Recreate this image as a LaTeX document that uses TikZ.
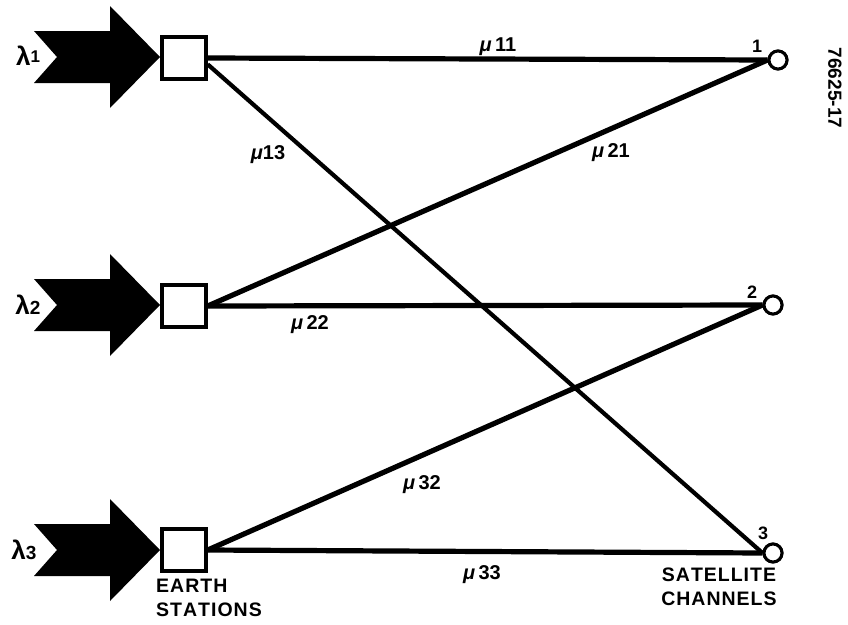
\documentclass[tikz,border=0pt]{standalone}
\usepackage{fontspec}
\setmainfont{Liberation Sans}
\usetikzlibrary{calc}
\begin{document}
\begin{tikzpicture}[x=1pt,y=-1pt,
  station/.style={draw,line width=3.4pt,fill=white,minimum width=44pt,minimum height=42pt,inner sep=0pt},
  channel/.style={circle,draw,line width=3pt,fill=white,minimum size=18pt,inner sep=0pt},
  link/.style={line width=5.2pt},
  thinlink/.style={line width=4.2pt},
  rate/.style={font=\fontsize{20}{22}\selectfont\bfseries,inner sep=1pt},
  idx/.style={font=\fontsize{18}{20}\selectfont\bfseries,inner sep=1pt},
  caption/.style={font=\fontsize{19.5}{24}\selectfont\bfseries,inner sep=0pt}
]
\useasboundingbox[fill=white] (0,0) rectangle (848,624);

% earth stations and satellite channels
\node[station] (e1) at (184,58) {};
\node[station] (e2) at (184,306) {};
\node[station] (e3) at (184,550) {};
\node[channel] (c1) at (778,60) {};
\node[channel] (c2) at (773,305) {};
\node[channel] (c3) at (773,553) {};

% arrival streams: notched block arrows
\foreach \y in {57,305,550}{
  \fill (34,\y-26) -- (110,\y-26) -- (110,\y-51) -- (160,\y) -- (110,\y+51)
        -- (110,\y+26) -- (34,\y+26) -- (57,\y) -- cycle;
}

% service links
\draw[link] (e1.east) -- (c1.west);
\draw[thinlink] (e1.-15) -- (c3.west);
\draw[link] (c1.west) -- (e2.east);
\draw[link] (e2.east) -- (c2.west);
\draw[link] (e3.east) -- (c2.west);
\draw[link] (e3.east) -- (c3.west);

% redraw nodes on top of link ends
\node[station] at (e1) {};
\node[station] at (e2) {};
\node[station] at (e3) {};
\node[channel] at (c1) {};
\node[channel] at (c2) {};
\node[channel] at (c3) {};

% arrival rates
\node[font=\fontsize{26}{28}\selectfont\bfseries,inner sep=1pt] (l1) at (28,56) {λ\raisebox{3pt}{\fontsize{17}{18}\selectfont 1}};
\node[font=\fontsize{26}{28}\selectfont\bfseries,inner sep=1pt] (l2) at (28,305) {λ\fontsize{19}{19}\selectfont 2};
\node[font=\fontsize{26}{28}\selectfont\bfseries,inner sep=1pt] (l3) at (24,550) {λ\fontsize{19}{19}\selectfont 3};

% service rates
\node[rate] (m11) at (498,47) {\textit{μ}\,11};
\node[rate] (m13) at (268,155) {\textit{μ}13};
\node[rate] (m21) at (611,153) {\textit{μ}\,21};
\node[rate] (m22) at (310,325) {\textit{μ}\,22};
\node[rate] (m32) at (422,485) {\textit{μ}\,32};
\node[rate] (m33) at (482,575) {\textit{μ}\,33};

% channel numbers
\node[idx] (n1) at (757,46) {1};
\node[idx] (n2) at (752,292) {2};
\node[idx] (n3) at (763,533) {3};

% captions
\node[caption,align=left,anchor=north west] (es) at (156,579) {E\kern1pt A\kern1pt R\kern1pt T\kern1pt H\\S\kern1pt T\kern1pt A\kern1pt T\kern1pt I\kern1pt O\kern1pt N\kern1pt S};
\node[caption,align=center] (sc) at (719,587) {S\kern1pt A\kern1pt T\kern1pt E\kern1pt L\kern1pt L\kern1pt I\kern1pt T\kern1pt E\\C\kern1pt H\kern1pt A\kern1pt N\kern1pt N\kern1pt E\kern1pt L\kern1pt S};
\node[font=\fontsize{19}{22}\selectfont\bfseries,rotate=-90] (fig) at (835,88) {76625-17};
\end{tikzpicture}
\end{document}
